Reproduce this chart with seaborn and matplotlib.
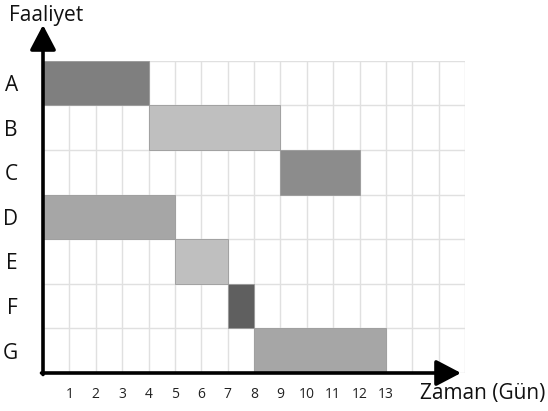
import pandas as pd
import numpy as np
import matplotlib
matplotlib.use("Agg")
import matplotlib.pyplot as plt
import seaborn as sns

# Gantt data: activity, start day, duration (days)
activities = ["A", "B", "C", "D", "E", "F", "G"]
starts = [0, 4, 9, 0, 5, 7, 8]
durations = [4, 5, 3, 5, 2, 1, 5]
bar_colors = ["#7f7f7f", "#bfbfbf", "#8c8c8c", "#a6a6a6", "#bfbfbf", "#5f5f5f", "#a6a6a6"]
day_ticks = list(range(1, 14))
x_max = 16

sns.set_theme(style="white")
plt.rcParams["font.family"] = ["Open Sans", "DejaVu Sans"]

df = pd.DataFrame({"activity": activities, "start": starts, "duration": durations, "color": bar_colors})

fig = plt.figure(figsize=(5.48, 4.11), dpi=100)
ax = fig.add_axes([43 / 548, 38 / 411, 422 / 548, 312.3 / 411])

ypos = np.arange(len(df))
ax.barh(ypos, df["duration"], left=df["start"], height=1.0, color=df["color"],
        edgecolor="#9a9a9a", linewidth=0.6, zorder=3)

ax.set_xlim(0, x_max)
ax.set_ylim(len(df) - 0.5, -0.5)

# grid on every day and every row boundary
ax.xaxis.remove_overlapping_locs = False
ax.set_xticks(np.arange(0, x_max + 1), minor=True)
ax.set_yticks(np.arange(-0.5, len(df)), minor=True)
ax.grid(which="minor", color="#e0e0e0", linewidth=1.0, zorder=0)
ax.grid(which="major", visible=False)
ax.set_axisbelow(True)

ax.set_xticks(day_ticks)
ax.set_xticklabels([str(d) for d in day_ticks], fontsize=10, color="#222222")
ax.set_yticks(ypos)
ax.set_yticklabels(df["activity"], fontsize=15, color="#111111")
ax.tick_params(axis="both", which="both", length=0)
ax.tick_params(axis="x", pad=10)
ax.tick_params(axis="y", pad=18)

for s in ax.spines.values():
    s.set_visible(False)
ax.set_xlabel("")
ax.set_ylabel("")

# axis arrows
arrow = dict(arrowstyle="-|>,head_length=0.8,head_width=0.42", mutation_scale=19,
             lw=2.6, color="black", shrinkA=0, shrinkB=0)
ax.annotate("", xy=(43, 411 - 25), xytext=(43, 411 - 374.5),
            xycoords="figure pixels", textcoords="figure pixels", arrowprops=arrow)
ax.annotate("", xy=(461, 411 - 373), xytext=(41.5, 411 - 373),
            xycoords="figure pixels", textcoords="figure pixels", arrowprops=arrow)

fig.text(420 / 548, 1 - 393 / 411, "Zaman (Gün)", fontsize=15, ha="left", va="center", color="#111111")
fig.text(9 / 548, 1 - 15 / 411, "Faaliyet", fontsize=15, ha="left", va="center", color="#111111")

fig.savefig("out.png", dpi=100)
